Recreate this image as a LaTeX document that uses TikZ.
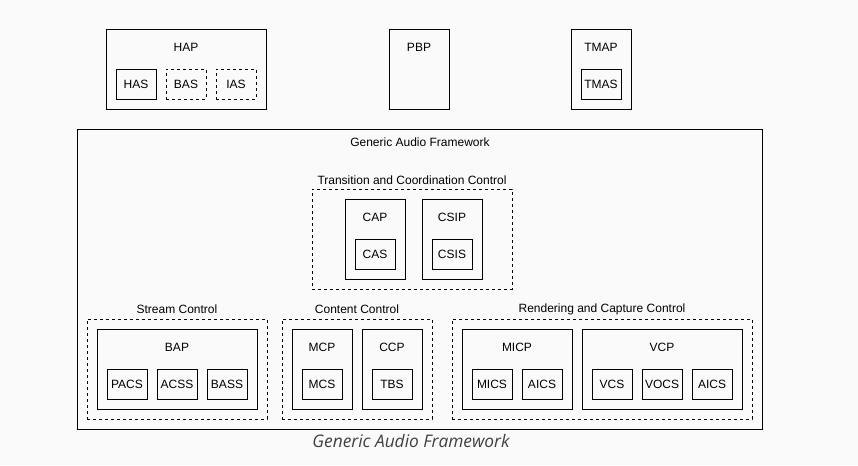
\documentclass[tikz,border=0pt]{standalone}
\usepackage{fontspec}
\setmainfont{Liberation Sans}
\newfontfamily\capfont{Open Sans}
\definecolor{bgc}{HTML}{FAFAFA}
\definecolor{capc}{HTML}{404040}
\begin{document}
\begin{tikzpicture}[x=0.75pt,y=-0.75pt,
  bx/.style n args={2}{draw=black,line width=0.75pt,rectangle,inner sep=0pt,minimum width=#1*0.75pt,minimum height=#2*0.75pt},
  dbx/.style n args={2}{bx={#1}{#2},dash pattern=on 2.25pt off 2.25pt},
  lbl/.style={font=\fontsize{9}{10}\selectfont,inner sep=0pt,anchor=center},
  inbx/.style={bx={40}{30},font=\fontsize{9}{10}\selectfont},
  dinbx/.style={dbx={40}{30},font=\fontsize{9}{10}\selectfont}]
\fill[bgc] (0,0) rectangle (858,465);
\useasboundingbox (0,0) rectangle (858,465);
% top profiles
\node[bx={160}{80}] (hap) at (186,69) {};
\node[lbl] (haplbl) at (186,47) {HAP};
\node[inbx] (has) at (136,84) {HAS};
\node[dinbx] (bas) at (186,84) {BAS};
\node[dinbx] (ias) at (236,84) {IAS};
\node[bx={60}{80}] (pbp) at (419,69) {};
\node[lbl] (pbplbl) at (419,47) {PBP};
\node[bx={60}{80}] (tmap) at (601,69) {};
\node[lbl] (tmaplbl) at (601,47) {TMAP};
\node[inbx] (tmas) at (601,84) {TMAS};
% GAF
\node[bx={685}{300}] (gaf) at (419.5,279) {};
\node[lbl] (gaflbl) at (420,142) {Generic Audio Framework};
% Transition and coordination
\node[dbx={200}{100}] (tcc) at (412,239) {};
\node[lbl] (tcclbl) at (412,180) {Transition and Coordination Control};
\node[bx={60}{80}] (cap) at (375,239) {};
\node[lbl] (caplbl) at (375,217) {CAP};
\node[inbx] (cas) at (375,254) {CAS};
\node[bx={60}{80}] (csip) at (452,239) {};
\node[lbl] (csiplbl) at (452,217) {CSIP};
\node[inbx] (csis) at (452,254) {CSIS};
% Stream control
\node[dbx={180}{100}] (sc) at (177,369) {};
\node[lbl] (sclbl) at (177,309) {Stream Control};
\node[bx={160}{80}] (bap) at (177,369) {};
\node[lbl] (baplbl) at (177,347) {BAP};
\node[inbx] (pacs) at (127,384) {PACS};
\node[inbx] (acss) at (177,384) {ACSS};
\node[inbx] (bass) at (227,384) {BASS};
% Content control
\node[dbx={150}{100}] (cc) at (357,369) {};
\node[lbl] (cclbl) at (357,309) {Content Control};
\node[bx={60}{80}] (mcp) at (322,369) {};
\node[lbl] (mcplbl) at (322,347) {MCP};
\node[inbx] (mcs) at (322,384) {MCS};
\node[bx={60}{80}] (ccp) at (392,369) {};
\node[lbl] (ccplbl) at (392,347) {CCP};
\node[inbx] (tbs) at (392,384) {TBS};
% Rendering and capture
\node[dbx={300}{100}] (rcc) at (602,369) {};
\node[lbl] (rcclbl) at (602,309) {Rendering and Capture Control};
\node[bx={110}{80}] (micp) at (517,369) {};
\node[lbl] (micplbl) at (517,347) {MICP};
\node[inbx] (mics) at (492,384) {MICS};
\node[inbx] (aics1) at (542,384) {AICS};
\node[bx={160}{80}] (vcp) at (662,369) {};
\node[lbl] (vcplbl) at (662,347) {VCP};
\node[inbx] (vcs) at (612,384) {VCS};
\node[inbx] (vocs) at (662,384) {VOCS};
\node[inbx] (aics2) at (712,384) {AICS};
% caption
\node[font=\capfont\itshape\fontsize{13}{15}\selectfont,text=capc,inner sep=0pt] (cap2) at (411,441) {Generic Audio Framework};
\end{tikzpicture}
\end{document}
